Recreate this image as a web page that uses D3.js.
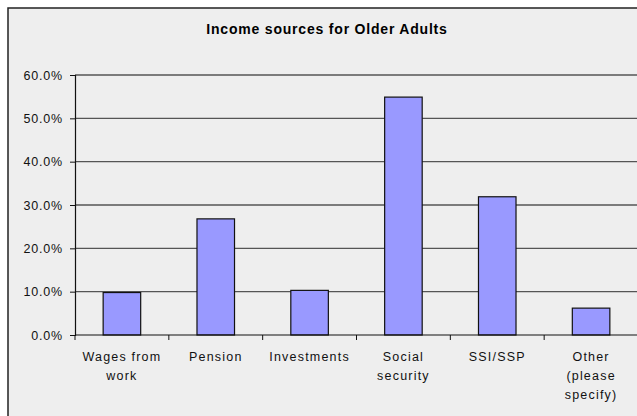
<!DOCTYPE html>
<html>
<head>
<meta charset="utf-8">
<script src="https://cdn.jsdelivr.net/npm/d3@7"></script>
<style>
  body { margin: 0; background: #fff; }
  svg { display: block; font-family: "Liberation Sans", Arial, sans-serif; }
</style>
</head>
<body>
<div id="chart"></div>
<script>
// data
const categories = ["Wages from work", "Pension", "Investments", "Social security", "SSI/SSP", "Other (please specify)"];
const labelLines = [["Wages from", "work"], ["Pension"], ["Investments"], ["Social", "security"], ["SSI/SSP"], ["Other", "(please", "specify)"]];
const shares = [0.098, 0.268, 0.103, 0.549, 0.319, 0.062];
const yTicks = [0, 0.1, 0.2, 0.3, 0.4, 0.5, 0.6];

const W = 637, H = 416;
const margin = {top: 75, left: 75, bottom: 81, right: -1};

const svg = d3.select("#chart").append("svg")
    .attr("width", W).attr("height", H);

// chart area frame (right and bottom edges are cropped off)
svg.append("rect")
    .attr("x", 8).attr("y", 8)
    .attr("width", W + 20).attr("height", H + 20)
    .attr("fill", "#eeeeee")
    .attr("stroke", "#222").attr("stroke-width", 1.5);

svg.append("text")
    .attr("x", 327).attr("y", 34)
    .attr("text-anchor", "middle")
    .style("font-size", "14px").style("font-weight", "bold")
    .style("letter-spacing", "0.8px")
    .text("Income sources for Older Adults");

const x = d3.scaleBand()
    .domain(categories)
    .range([margin.left, W - margin.right])
    .paddingInner(0.6).paddingOuter(0.3);

const y = d3.scaleLinear()
    .domain([0, 0.6])
    .range([H - margin.bottom, margin.top]);

// gridlines
svg.append("g")
  .selectAll("line")
  .data(yTicks.slice(1))
  .join("line")
    .attr("x1", margin.left).attr("x2", W)
    .attr("y1", d => y(d)).attr("y2", d => y(d))
    .attr("stroke", "#555").attr("stroke-width", 1.3);

// bars
svg.append("g")
  .selectAll("rect")
  .data(shares)
  .join("rect")
    .attr("x", (d, i) => x(categories[i]))
    .attr("y", d => y(d))
    .attr("width", x.bandwidth())
    .attr("height", d => y(0) - y(d))
    .attr("fill", "#9999ff")
    .attr("stroke", "#111").attr("stroke-width", 1.2);

// y axis
const yAxis = svg.append("g")
    .attr("transform", `translate(${margin.left},0)`)
    .call(d3.axisLeft(y).tickValues(yTicks).tickFormat(d3.format(".1%")).tickSize(5).tickPadding(7));
yAxis.select(".domain").attr("stroke", "#111").attr("stroke-width", 1.2);
yAxis.selectAll(".tick line").attr("stroke", "#111");
yAxis.selectAll("text")
    .style("font-size", "12.5px").style("letter-spacing", "0.8px")
    .attr("fill", "#111");

// x axis: baseline plus tick marks between the categories
const gx = svg.append("g");
gx.append("line")
    .attr("x1", margin.left).attr("x2", W)
    .attr("y1", y(0)).attr("y2", y(0))
    .attr("stroke", "#111").attr("stroke-width", 1.2);

const gap = (x.step() - x.bandwidth()) / 2;
const edges = categories.map(c => x(c) - gap);
gx.selectAll("line.tk")
  .data(edges)
  .join("line")
    .attr("class", "tk")
    .attr("x1", d => d).attr("x2", d => d)
    .attr("y1", y(0)).attr("y2", y(0) + 5)
    .attr("stroke", "#111");

gx.selectAll("text")
  .data(labelLines)
  .join("text")
    .attr("text-anchor", "middle")
    .attr("fill", "#111")
    .style("font-size", "12.5px").style("letter-spacing", "1.2px")
    .attr("transform", (d, i) => `translate(${x(categories[i]) + x.bandwidth() / 2},${y(0) + 26})`)
  .selectAll("tspan")
  .data(d => d)
  .join("tspan")
    .attr("x", 0)
    .attr("y", (d, j) => j * 19)
    .text(d => d);
</script>
</body>
</html>
